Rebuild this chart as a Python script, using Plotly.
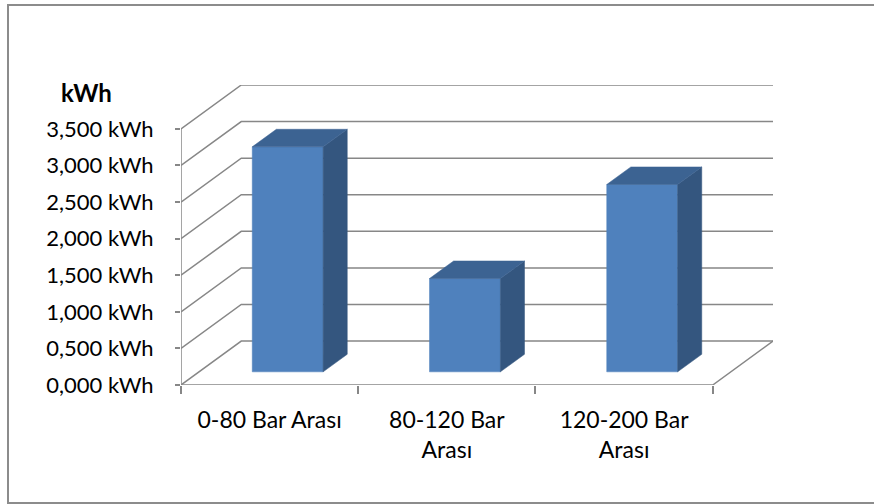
import plotly.graph_objects as go

# Energy use per pressure band
categories = ["0-80 Bar Arası", "80-120 Bar<br>Arası", "120-200 Bar<br>Arası"]
values = [3075, 1275, 2560]
y_ticks = [0, 500, 1000, 1500, 2000, 2500, 3000, 3500]
y_tick_labels = ["0,000 kWh", "0,500 kWh", "1,000 kWh", "1,500 kWh",
                 "2,000 kWh", "2,500 kWh", "3,000 kWh", "3,500 kWh"]
y_title = "kWh"

# Oblique projection of the depth axis, in data units
DX = 0.34     # horizontal shift of the back wall (category units)
DY = 600      # vertical shift of the back wall (kWh units)
BAR_HALF = 0.2
D0, D1 = 0.3, 0.7   # bar depth span as fraction of the full depth

GRID = "#878787"
FRONT = "#4F81BD"
SIDE = "#34567F"
TOP = "#3C6392"
FONT = "Lato"

# plot-area geometry in pixels
L, T, W, H = 181, 85, 592, 300
FIG_W, FIG_H = 874, 504

n = len(categories)
fig = go.Figure()


def line(xs, ys, color=GRID, width=1.5):
    fig.add_trace(go.Scatter(x=xs, y=ys, mode="lines",
                             line=dict(color=color, width=width),
                             hoverinfo="skip", showlegend=False))


def poly(xs, ys, color):
    fig.add_trace(go.Scatter(x=xs + [xs[0]], y=ys + [ys[0]], mode="lines",
                             fill="toself", fillcolor=color,
                             line=dict(color=color, width=0.5),
                             hoverinfo="skip", showlegend=False))


# walls: left-side diagonals + back-wall gridlines
for v in y_ticks:
    line([0, DX, n + DX], [v, v + DY, v + DY])

# floor edges and front value axis
line([0, n, n + DX], [0, 0, DY])
line([0, 0], [0, y_ticks[-1]])

# bars as three visible faces
for i, v in enumerate(values):
    c = i + 0.5
    xl, xr = c - BAR_HALF, c + BAR_HALF
    fx0, fx1 = D0 * DX, D1 * DX
    fy0, fy1 = D0 * DY, D1 * DY
    poly([xl + fx0, xr + fx0, xr + fx0, xl + fx0],
         [fy0, fy0, v + fy0, v + fy0], FRONT)
    poly([xr + fx0, xr + fx1, xr + fx1, xr + fx0],
         [fy0, fy1, v + fy1, v + fy0], SIDE)
    poly([xl + fx0, xr + fx0, xr + fx1, xl + fx1],
         [v + fy0, v + fy0, v + fy1, v + fy1], TOP)


def px_x(p):
    return (p - L) / W


def px_y(p):
    return (T + H - p) / H


fig.update_layout(
    width=FIG_W, height=FIG_H, autosize=False,
    margin=dict(l=L, r=FIG_W - L - W, t=T, b=FIG_H - T - H),
    paper_bgcolor="white", plot_bgcolor="white",
    font=dict(family=FONT, size=22, color="#000000"),
    xaxis=dict(range=[0, n + DX], showgrid=False, zeroline=False,
               showline=False, tickmode="array",
               tickvals=[i + 0.5 for i in range(n)], ticktext=categories,
               ticks="", tickfont=dict(size=23), ticklabelstandoff=19,
               minor=dict(tickmode="array", tickvals=list(range(n + 1)),
                          ticks="outside", ticklen=8, tickwidth=1.5,
                          tickcolor=GRID, showgrid=False)),
    yaxis=dict(range=[0, y_ticks[-1] + DY], showgrid=False, zeroline=False,
               showline=False, tickmode="array", tickvals=y_ticks,
               ticktext=y_tick_labels, ticks="outside", ticklen=5,
               tickwidth=1.5, tickcolor=GRID, tickfont=dict(size=22),
               ticklabelstandoff=17),
    annotations=[dict(text="<b>" + y_title + "</b>", xref="paper", yref="paper",
                      x=px_x(114), y=px_y(92), xanchor="right", yanchor="middle",
                      showarrow=False, font=dict(size=24))],
    shapes=[dict(type="rect", xref="paper", yref="paper",
                 x0=px_x(8), x1=px_x(FIG_W + 6), y0=px_y(503), y1=px_y(5),
                 line=dict(color="#8C8C8C", width=2), fillcolor="rgba(0,0,0,0)")],
)

fig.write_html("out.html")
